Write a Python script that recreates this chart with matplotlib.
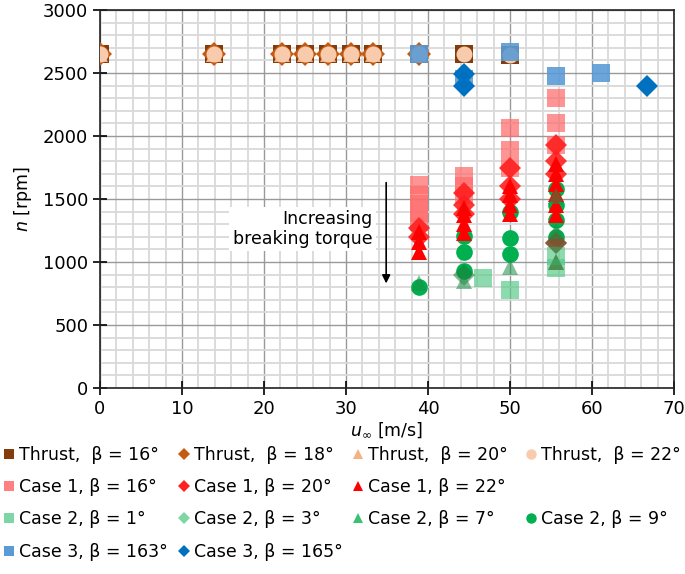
import numpy as np
import matplotlib.pyplot as plt
from matplotlib.lines import Line2D
from matplotlib.ticker import MultipleLocator

plt.rcParams['font.family'] = ['DejaVu Sans']
plt.rcParams['mathtext.fontset'] = 'dejavusans'

# ---- data (u_inf [m/s], n [rpm]) ----
thr16_u = [0, 13.9, 22.2, 25.0, 27.8, 30.6, 33.3, 38.9, 44.4, 50.0]
thr16_n = [2650, 2650, 2650, 2650, 2650, 2650, 2650, 2650, 2650, 2640]
thr18_u = [0, 13.9, 22.2, 25.0, 27.8, 30.6, 33.3, 38.9]
thr18_n = [2650, 2650, 2650, 2650, 2650, 2650, 2650, 2650]
thr20_u = [0, 13.9, 22.2, 25.0, 27.8, 30.6, 33.3, 38.9]
thr20_n = [2650, 2650, 2650, 2650, 2650, 2650, 2650, 2650]
thr22_u = [0, 13.9, 22.2, 25.0, 27.8, 30.6, 33.3, 38.9, 44.4, 50.0]
thr22_n = [2650, 2650, 2650, 2650, 2650, 2650, 2650, 2650, 2650, 2640]

c1b16_u = [38.9, 38.9, 38.9, 38.9, 38.9, 44.4, 44.4, 44.4, 50.0, 50.0, 50.0, 55.6, 55.6, 55.6]
c1b16_n = [1610, 1530, 1460, 1390, 1320, 1680, 1600, 1530, 2060, 1890, 1750, 2300, 2100, 1930]
c1b20_u = [38.9, 38.9, 44.4, 44.4, 44.4, 50.0, 50.0, 50.0, 55.6, 55.6, 55.6, 55.6]
c1b20_n = [1270, 1200, 1550, 1450, 1380, 1750, 1600, 1500, 1930, 1800, 1700, 1150]
c1b22_u = [38.9, 38.9, 38.9, 44.4, 44.4, 44.4, 44.4, 50.0, 50.0, 50.0, 50.0,
           55.6, 55.6, 55.6, 55.6, 55.6, 55.6, 55.6]
c1b22_n = [1240, 1160, 1080, 1430, 1370, 1300, 1230, 1600, 1530, 1450, 1380,
           1780, 1700, 1620, 1540, 1450, 1370, 1000]

c2b1_u = [46.7, 50.0, 55.6, 55.6]
c2b1_n = [870, 780, 950, 1050]
c2b3_u = [44.4, 55.6]
c2b3_n = [900, 1150]
c2b7_u = [38.9, 44.4, 50.0, 55.6, 55.6, 55.6]
c2b7_n = [830, 850, 960, 1000, 1250, 1520]
c2b9_u = [38.9, 44.4, 44.4, 44.4, 50.0, 50.0, 50.0, 55.6, 55.6, 55.6, 55.6]
c2b9_n = [800, 1210, 1080, 930, 1400, 1190, 1060, 1580, 1450, 1330, 1200]

c3b163_u = [38.9, 44.4, 50.0, 55.6, 61.1]
c3b163_n = [2650, 2450, 2670, 2480, 2500]
c3b165_u = [44.4, 44.4, 66.7]
c3b165_n = [2490, 2400, 2400]

fig = plt.figure(figsize=(6.85, 5.74), dpi=100)
ax = fig.add_axes([100/685, 1-388/574, 574/685, 378/574])

# (u, n, marker, size, color, alpha, zorder, label)
series = [
    (thr16_u, thr16_n, 's', 13, '#843C0C', 1.0, 3, 'Thrust,  β = 16°'),
    (thr18_u, thr18_n, 'D', 12.5, '#C55A11', 1.0, 3.1, 'Thrust,  β = 18°'),
    (thr20_u, thr20_n, '^', 11, '#F4B183', 1.0, 3.2, 'Thrust,  β = 20°'),
    (thr22_u, thr22_n, 'o', 11.5, '#F8CBAD', 1.0, 3.3, 'Thrust,  β = 22°'),
    (c1b16_u, c1b16_n, 's', 13, '#FF6B6B', 0.72, 4, 'Case 1, β = 16°'),
    (c2b9_u, c2b9_n, 'o', 12, '#00B050', 1.0, 4.5, 'Case 2, β = 9°'),
    (c1b20_u, c1b20_n, 'D', 11, '#FF2020', 0.9, 5, 'Case 1, β = 20°'),
    (c1b22_u, c1b22_n, '^', 12, '#FF0000', 1.0, 5.1, 'Case 1, β = 22°'),
    (c2b1_u, c2b1_n, 's', 13, '#5CCB8A', 0.7, 6, 'Case 2, β = 1°'),
    (c2b3_u, c2b3_n, 'D', 11, '#1F7A3A', 0.55, 6.1, 'Case 2, β = 3°'),
    (c2b7_u, c2b7_n, '^', 12, '#1A8F45', 0.55, 6.2, 'Case 2, β = 7°'),
    (c3b163_u, c3b163_n, 's', 13, '#5B9BD5', 0.9, 7, 'Case 3, β = 163°'),
    (c3b165_u, c3b165_n, 'D', 11, '#0070C0', 1.0, 7.1, 'Case 3, β = 165°'),
]
leg_colors = {
    'Case 2, β = 1°': '#7FD6A5', 'Case 2, β = 3°': '#7FD6A5',
    'Case 2, β = 7°': '#3CC074', 'Case 1, β = 16°': '#FF8080',
    'Case 3, β = 163°': '#5B9BD5',
}

handles = {}
for u, n, mk, ms, col, al, zo, lab in series:
    ax.plot(u, n, linestyle='none', marker=mk, markersize=ms, color=col,
            markeredgewidth=0, alpha=al, zorder=zo)
    handles[lab] = Line2D([0], [0], linestyle='none', marker=mk,
                          markersize=7.5 if mk != 'D' else 6.5,
                          color=leg_colors.get(lab, col), markeredgewidth=0)

ax.set_xlim(0, 70)
ax.set_ylim(0, 3000)
ax.xaxis.set_major_locator(MultipleLocator(10))
ax.xaxis.set_minor_locator(MultipleLocator(2))
ax.yaxis.set_major_locator(MultipleLocator(500))
ax.yaxis.set_minor_locator(MultipleLocator(100))
ax.grid(which='minor', color='#D9D9D9', lw=1.3, zorder=0)
ax.grid(which='major', color='#999999', lw=1.0, zorder=0.5)
ax.set_axisbelow(True)
ax.tick_params(which='major', direction='inout', length=10, width=1.2,
               labelsize=13, top=False, right=False)
ax.tick_params(which='minor', length=0)
for sp in ax.spines.values():
    sp.set_color('#222222')
    sp.set_linewidth(1.2)

ax.set_xlabel(r'$u_{\infty}$ [m/s]', fontsize=12.5, labelpad=2)
ax.set_ylabel(r'$n$ [rpm]', fontsize=12.5, labelpad=6)

ax.text(33.2, 1262, 'Increasing\nbreaking torque', ha='right', va='center',
        fontsize=12.5, linespacing=1.1, zorder=8,
        bbox=dict(boxstyle='square,pad=0.2', facecolor='white', edgecolor='none'))
ax.annotate('', xy=(34.9, 830), xytext=(34.9, 1630),
            arrowprops=dict(arrowstyle='-|>', color='black', lw=1.2,
                            mutation_scale=12, shrinkA=0, shrinkB=0),
            zorder=8)

# legend: four columns, placed one by one
columns = [
    ['Thrust,  β = 16°', 'Case 1, β = 16°', 'Case 2, β = 1°', 'Case 3, β = 163°'],
    ['Thrust,  β = 18°', 'Case 1, β = 20°', 'Case 2, β = 3°', 'Case 3, β = 165°'],
    ['Thrust,  β = 20°', 'Case 1, β = 22°', 'Case 2, β = 7°', None],
    ['Thrust,  β = 22°', None, 'Case 2, β = 9°', None],
]
col_x = [3, 178, 352, 525]
blank = Line2D([0], [0], linestyle='none', marker='')
for cx, keys in zip(col_x, columns):
    hs = [handles[k] if k else blank for k in keys]
    ls = [k if k else '' for k in keys]
    lg = fig.legend(hs, ls, loc='upper left',
                    bbox_to_anchor=(cx/685, 1 - 446/574),
                    frameon=False, fontsize=12.5, handlelength=0.7,
                    handletextpad=0.2, labelspacing=0.82,
                    borderaxespad=0, borderpad=0.0)

fig.savefig('out.png', dpi=100)
